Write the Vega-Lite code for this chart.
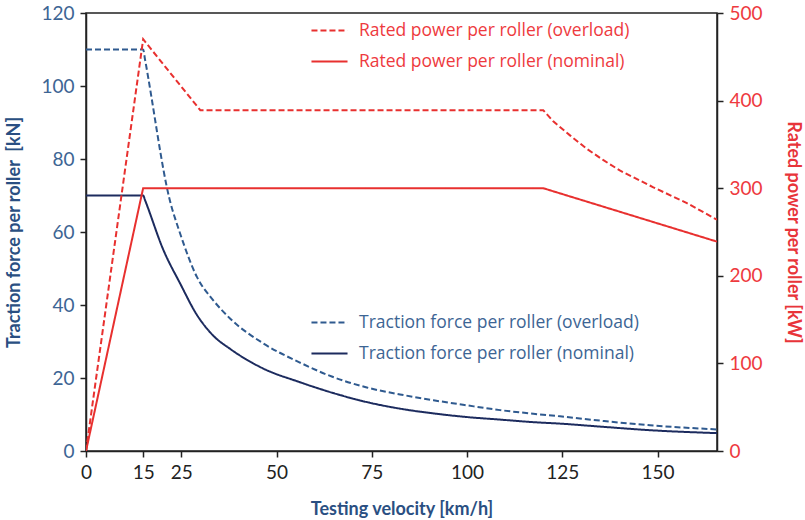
{
  "$schema": "https://vega.github.io/schema/vega-lite/v6.json",
  "width": 631,
  "height": 438,
  "autosize": {"type": "none"},
  "padding": {"left": 86, "top": 13, "right": 88, "bottom": 69},
  "background": "white",
  "config": {
    "view": {"stroke": "#222222", "strokeWidth": 1.5},
    "axis": {"grid": false, "domainColor": "#222222", "domainWidth": 1.5, "tickColor": "#222222", "tickWidth": 1.5, "tickSize": 6, "labelFont": "Lato", "labelFontSize": 19, "titleFont": "Lato", "titleFontSize": 18, "titleFontWeight": "bold"},
    "legend": {"labelFont": "Open Sans", "labelFontSize": 17.5, "padding": 0}
  },
  "datasets": {
    "traction": [
      {"v": 0, "force": 110, "series": "Traction force per roller (overload)"},
      {"v": 15, "force": 110, "series": "Traction force per roller (overload)"},
      {"v": 15.5, "force": 107.2, "series": "Traction force per roller (overload)"},
      {"v": 22, "force": 68.7, "series": "Traction force per roller (overload)"},
      {"v": 24.7, "force": 59.6, "series": "Traction force per roller (overload)"},
      {"v": 29.1, "force": 47.7, "series": "Traction force per roller (overload)"},
      {"v": 33.4, "force": 41.3, "series": "Traction force per roller (overload)"},
      {"v": 37.8, "force": 36.3, "series": "Traction force per roller (overload)"},
      {"v": 46.5, "force": 29.5, "series": "Traction force per roller (overload)"},
      {"v": 56, "force": 24.3, "series": "Traction force per roller (overload)"},
      {"v": 64.5, "force": 20.4, "series": "Traction force per roller (overload)"},
      {"v": 73.7, "force": 17.4, "series": "Traction force per roller (overload)"},
      {"v": 82.4, "force": 15.5, "series": "Traction force per roller (overload)"},
      {"v": 91.2, "force": 13.9, "series": "Traction force per roller (overload)"},
      {"v": 100, "force": 12.5, "series": "Traction force per roller (overload)"},
      {"v": 108.7, "force": 11.2, "series": "Traction force per roller (overload)"},
      {"v": 117.4, "force": 10.2, "series": "Traction force per roller (overload)"},
      {"v": 124.4, "force": 9.5, "series": "Traction force per roller (overload)"},
      {"v": 136, "force": 8.2, "series": "Traction force per roller (overload)"},
      {"v": 148, "force": 7.05, "series": "Traction force per roller (overload)"},
      {"v": 165.6, "force": 5.9, "series": "Traction force per roller (overload)"},
      {"v": 0, "force": 70, "series": "Traction force per roller (nominal)"},
      {"v": 15, "force": 70, "series": "Traction force per roller (nominal)"},
      {"v": 15.5, "force": 68.7, "series": "Traction force per roller (nominal)"},
      {"v": 20.3, "force": 55.1, "series": "Traction force per roller (nominal)"},
      {"v": 24.7, "force": 45.9, "series": "Traction force per roller (nominal)"},
      {"v": 29.1, "force": 37.3, "series": "Traction force per roller (nominal)"},
      {"v": 33.4, "force": 31.6, "series": "Traction force per roller (nominal)"},
      {"v": 37.8, "force": 28.0, "series": "Traction force per roller (nominal)"},
      {"v": 46.5, "force": 22.6, "series": "Traction force per roller (nominal)"},
      {"v": 56, "force": 18.9, "series": "Traction force per roller (nominal)"},
      {"v": 64.5, "force": 16.0, "series": "Traction force per roller (nominal)"},
      {"v": 73.7, "force": 13.4, "series": "Traction force per roller (nominal)"},
      {"v": 82.4, "force": 11.6, "series": "Traction force per roller (nominal)"},
      {"v": 91.2, "force": 10.3, "series": "Traction force per roller (nominal)"},
      {"v": 100, "force": 9.3, "series": "Traction force per roller (nominal)"},
      {"v": 108.7, "force": 8.6, "series": "Traction force per roller (nominal)"},
      {"v": 117.4, "force": 7.9, "series": "Traction force per roller (nominal)"},
      {"v": 124.4, "force": 7.5, "series": "Traction force per roller (nominal)"},
      {"v": 136, "force": 6.6, "series": "Traction force per roller (nominal)"},
      {"v": 148, "force": 5.7, "series": "Traction force per roller (nominal)"},
      {"v": 165.6, "force": 4.9, "series": "Traction force per roller (nominal)"}
    ],
    "power": [
      {"v": 0, "power": 0, "series": "Rated power per roller (overload)"},
      {"v": 15, "power": 470, "series": "Rated power per roller (overload)"},
      {"v": 30, "power": 389, "series": "Rated power per roller (overload)"},
      {"v": 120, "power": 389, "series": "Rated power per roller (overload)"},
      {"v": 122.7, "power": 376, "series": "Rated power per roller (overload)"},
      {"v": 127.1, "power": 360, "series": "Rated power per roller (overload)"},
      {"v": 131.4, "power": 345, "series": "Rated power per roller (overload)"},
      {"v": 135.8, "power": 332, "series": "Rated power per roller (overload)"},
      {"v": 140.2, "power": 320, "series": "Rated power per roller (overload)"},
      {"v": 148.9, "power": 301, "series": "Rated power per roller (overload)"},
      {"v": 157.7, "power": 283, "series": "Rated power per roller (overload)"},
      {"v": 165.6, "power": 264, "series": "Rated power per roller (overload)"},
      {"v": 0, "power": 0, "series": "Rated power per roller (nominal)"},
      {"v": 15, "power": 300, "series": "Rated power per roller (nominal)"},
      {"v": 120, "power": 300, "series": "Rated power per roller (nominal)"},
      {"v": 165.6, "power": 239, "series": "Rated power per roller (nominal)"}
    ]
  },
  "layer": [
    {
      "data": {"name": "traction"},
      "mark": {"type": "line", "strokeWidth": 2, "clip": true, "interpolate": "monotone"},
      "encoding": {
        "x": {"field": "v", "type": "quantitative", "scale": {"domain": [0, 165.6], "nice": false, "zero": true},
          "axis": {"values": [0, 15, 25, 50, 75, 100, 125, 150], "title": "Testing velocity [km/h]", "titleColor": "#2a4f82", "labelColor": "#222222", "labelPadding": 6, "titlePadding": 18, "labelFlush": false}},
        "y": {"field": "force", "type": "quantitative", "scale": {"domain": [0, 120], "nice": false},
          "axis": {"orient": "left", "values": [0, 20, 40, 60, 80, 100, 120], "title": "Traction force per roller\u00a0\u00a0[kN]", "titleColor": "#2a4f82", "labelColor": "#3d6594", "labelPadding": 6, "titlePadding": 17}},
        "color": {"field": "series", "type": "nominal",
          "scale": {"domain": ["Traction force per roller (overload)", "Traction force per roller (nominal)"], "range": ["#2f5a8f", "#1c2b5e"]},
          "legend": {"orient": "none", "legendX": 224, "legendY": 290, "title": null, "labelColor": "#3d6594", "symbolType": "stroke", "symbolSize": 1300, "symbolStrokeWidth": 2, "labelOffset": 10, "rowPadding": 3, "labelLimit": 400}},
        "strokeDash": {"field": "series", "type": "nominal",
          "scale": {"domain": ["Traction force per roller (overload)", "Traction force per roller (nominal)"], "range": [[6, 3], [1, 0]]},
          "legend": {"orient": "none", "legendX": 224, "legendY": 290, "title": null, "labelColor": "#3d6594", "symbolType": "stroke", "symbolSize": 1300, "symbolStrokeWidth": 2, "labelOffset": 10, "rowPadding": 3, "labelLimit": 400}}
      }
    },
    {
      "data": {"name": "power"},
      "mark": {"type": "line", "strokeWidth": 2, "clip": true},
      "encoding": {
        "x": {"field": "v", "type": "quantitative"},
        "y": {"field": "power", "type": "quantitative", "scale": {"domain": [0, 500], "nice": false},
          "axis": {"orient": "right", "values": [0, 100, 200, 300, 400, 500], "title": "Rated power per roller [kW]", "titleColor": "#e8343a", "labelColor": "#ee3a3e", "labelPadding": 6, "titlePadding": 21}},
        "color": {"field": "series", "type": "nominal",
          "scale": {"domain": ["Rated power per roller (overload)", "Rated power per roller (nominal)"], "range": ["#e8302f", "#e8302f"]},
          "legend": {"orient": "none", "legendX": 224, "legendY": -2, "title": null, "labelColor": "#ee3a3e", "symbolType": "stroke", "symbolSize": 1300, "symbolStrokeWidth": 2, "labelOffset": 10, "rowPadding": 3, "labelLimit": 400}},
        "strokeDash": {"field": "series", "type": "nominal",
          "scale": {"domain": ["Rated power per roller (overload)", "Rated power per roller (nominal)"], "range": [[6, 3], [1, 0]]},
          "legend": {"orient": "none", "legendX": 224, "legendY": -2, "title": null, "labelColor": "#ee3a3e", "symbolType": "stroke", "symbolSize": 1300, "symbolStrokeWidth": 2, "labelOffset": 10, "rowPadding": 3, "labelLimit": 400}}
      }
    }
  ],
  "resolve": {
    "scale": {"y": "independent", "color": "independent", "strokeDash": "independent"},
    "legend": {"color": "independent", "strokeDash": "independent"}
  }
}
